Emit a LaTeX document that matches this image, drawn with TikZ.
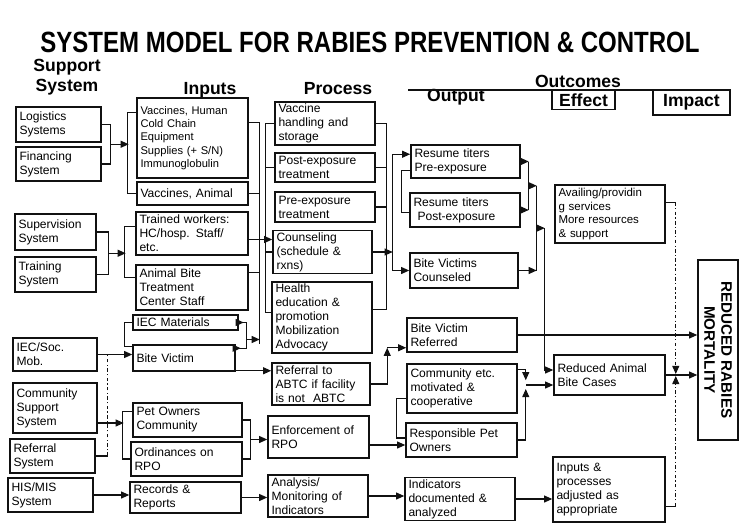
\documentclass[tikz,border=0pt]{standalone}
\usepackage{fontspec}
\setmainfont{Liberation Sans}
\usepackage{tikz}
\usetikzlibrary{arrows.meta,calc}
\definecolor{ink}{HTML}{111111}

\tikzset{
  box/.style={draw=ink, line width=1.3pt, align=left, inner xsep=3pt, inner ysep=1.5pt,
    font=\fontsize{10.3}{12}\selectfont},
  sz/.style 2 args={text width={#1*0.03cm-6pt}, minimum height={#2*0.03cm}},
  hdr/.style={font=\fontsize{15}{17}\selectfont\bfseries, align=center, inner sep=0pt},
  wire/.style={draw=ink, line width=1pt},
  arr/.style={wire, -{Triangle[length=7pt,width=6pt]}},
  dd/.style={wire, dashdotted},
}

\begin{document}
\begin{tikzpicture}[x=0.03cm, y=-0.03cm]
\useasboundingbox (0,0) rectangle (746,528);

% headings
\node[inner sep=0pt] (title) at (370,42)
  {\scalebox{0.82}[1]{\fontsize{25}{28}\selectfont\bfseries SYSTEM MODEL FOR RABIES PREVENTION \& CONTROL}};
\node[hdr] (hsup) at (67,77) {Support\\System};
\node[hdr] (hin) at (210,90) {Inputs};
\node[hdr] (hpro) at (338,89) {Process};
\node[hdr] (hout) at (456,97) {Output};
\node[hdr] (hoc) at (578,81) {Outcomes};
\node[hdr, draw=ink, line width=1pt, minimum width=63*0.03cm, minimum height=19*0.03cm] (heff) at (583.5,100) {Effect};
\node[hdr, draw=ink, line width=1pt, minimum width=77*0.03cm, minimum height=25*0.03cm] (himp) at (691.5,102.5) {Impact};
\coordinate (ocl) at (408,90);
\draw[wire] (ocl) -- (ocl -| himp.east);

% support system
\node[box, sz={85}{35}] (logi) at (58.5,124.5) {Logistics\\Systems};
\node[box, sz={85}{34}] (fin) at (58.5,164) {Financing\\System};
\node[box, sz={81}{36}] (sup) at (55.5,232) {Supervision\\System};
\node[box, sz={81}{35}] (train) at (55.5,274.5) {Training\\System};
\node[box, sz={84}{33}] (iecsoc) at (55,354.5) {IEC/Soc.\\Mob.};
\node[box, sz={84}{50}] (comm) at (55,408) {Community\\Support\\System};
\node[box, sz={85}{34}] (refsys) at (52.5,456) {Referral\\System};
\node[box, sz={85}{34}] (his) at (50.5,495) {HIS/MIS\\System};

% inputs
\node[box, sz={111}{80}, font=\fontsize{9.5}{11.3}\selectfont] (vhum) at (192.5,138)
  {Vaccines, Human\\Cold Chain\\Equipment\\Supplies (+ S/N)\\Immunoglobulin};
\node[box, sz={111}{23}] (vani) at (192.5,193.5) {Vaccines, Animal};
\node[box, sz={112}{43}] (trw) at (192,233.5) {Trained workers:\\HC/hosp. Staff/\\etc.};
\node[box, sz={112}{45}] (abtc) at (192,287.5) {Animal Bite\\Treatment\\Center Staff};
\node[box, sz={105}{15}] (iecm) at (185.5,322.5) {IEC Materials};
\node[box, sz={102}{26}] (bvic) at (184,358) {Bite Victim};
\node[box, sz={109}{34}] (pown) at (187.5,420) {Pet Owners\\Community};
\node[box, sz={111}{34}] (ordn) at (186.5,459) {Ordinances on\\RPO};
\node[box, sz={111}{31}] (recs) at (185.5,497.5) {Records \&\\Reports};

% process
\node[box, sz={100}{43}] (vhand) at (325,123.5) {Vaccine\\handling and\\storage};
\node[box, sz={100}{29}] (postx) at (325,167.5) {Post-exposure\\treatment};
\node[box, sz={100}{30}] (prex) at (325,207) {Pre-exposure\\treatment};
\node[box, sz={99}{40}] (couns) at (322.5,252) {Counseling\\(schedule \&\\rxns)};
\node[box, sz={100}{71}] (hedu) at (322,317.5) {Health\\education \&\\promotion\\Mobilization\\Advocacy};
\node[box, sz={98}{42}] (refabtc) at (321,384) {Referral to\\ABTC if facility\\is not\ \ ABTC};
\node[box, sz={101}{42}] (enf) at (318.5,437) {Enforcement of\\RPO};
\node[box, sz={100}{42}] (anal) at (318,496) {Analysis/\\Monitoring of\\Indicators};

% output
\node[box, sz={109}{33}] (rpre) at (465.5,161.5) {Resume titers\\Pre-exposure};
\node[box, sz={110}{34}] (rpost) at (465,210) {Resume titers\\\ Post-exposure};
\node[box, sz={108}{35}] (bvc) at (464,270.5) {Bite Victims\\Counseled};
\node[box, sz={110}{34}] (bvr) at (462,335) {Bite Victim\\Referred};
\node[box, sz={110}{49}] (cmot) at (462,388.5) {Community etc.\\motivated \&\\cooperative};
\node[box, sz={111}{34}] (rpo) at (461.5,440) {Responsible Pet\\Owners};
\node[box, sz={110}{42}] (indic) at (460,499) {Indicators\\documented \&\\analyzed};

% effect and impact
\node[box, sz={110}{58}, font=\fontsize{9.8}{11.5}\selectfont] (avail) at (610,214)
  {Availing/providin\\g services\\More resources\\\& support};
\node[box, sz={111}{40}] (rabc) at (609.5,375) {Reduced Animal\\Bite Cases};
\node[box, sz={112}{65}] (inadj) at (609,489.5) {Inputs \&\\processes\\adjusted as\\appropriate};
\node[draw=ink, line width=1.3pt, rotate=-90, align=center, inner sep=1pt,
  minimum width=180*0.03cm, minimum height=40*0.03cm,
  font=\fontsize{13}{14.5}\selectfont\bfseries] (rrm) at (718,350) {REDUCED RABIES\\MORTALITY};

% support -> inputs
\draw[wire] (logi.east) -- ++(9,0) |- coordinate[pos=.25] (sj1) (fin.east);
\draw[arr] (sj1) -- ++(18,0);
\draw[wire] ($(vhum.north west)+(0,15)$) -- ++(-9,0) |- (vani.west);
\draw[wire] (sup.east) -- ++(12,0) |- coordinate[pos=.25] (sj2) (train.east);
\draw[arr] (sj2) -- ++(17,0);
\draw[wire] ($(trw.north west)+(0,15)$) -- ++(-11,0) |- ($(abtc.north west)+(0,13)$);
\draw[arr] (iecsoc.east) -- (iecsoc.east -| bvic.west);
\draw[wire] (refsys.east) -- ++(12,0) coordinate (rsj);
\draw[dd] (rsj) -- (rsj |- iecsoc.east);
\draw[wire] (iecm.west) -- ++(-8,0) |- ($(bvic.north west)+(0,2)$);
\draw[arr] ($(comm.east)+(0,15)$) -- ++(26,0);
\draw[wire] ($(pown.north west)+(0,9)$) -- ++(-10,0) |- (ordn.west);
\draw[arr] (his.east) -- (his.east -| recs.west);

% inputs -> process
\draw[wire] ($(vhum.north east)+(0,25)$) -| ($(bvic.north east)+(24,0)$);
\draw[wire] (vani.east) -- ++(11,0);
\draw[wire] ($(abtc.north east)+(0,8)$) -- ++(11,0);
\draw[arr] (iecm.east) -- ++(5,0);
\draw[arr] ($(bvic.north east)+(0,4)$) -- ++(5,0);
\draw[wire] (iecm.east) -- ++(8,0) |- ($(bvic.north east)+(0,4)$);
\draw[arr] ($(iecm.east)+(8,17)$) -- ++(13,0);
\coordinate (tw) at ($(trw.east)+(0,6)$);
\draw[arr] (tw) -- (tw -| couns.west);
\coordinate (bv2) at ($(bvic.south east)+(0,-1)$);
\draw[arr] (bv2) -- (bv2 -| refabtc.west);
\draw[wire] (pown.east) -- ++(8,0) |- coordinate[pos=.25] (pj) (ordn.east);
\draw[arr] (pj) -- (pj -| enf.west);
\draw[arr] (recs.east) -- (recs.east -| anal.west);

% process buses
\draw[wire] (vhand.west) -- ++(-9,0) |- ($(hedu.north west)+(0,31)$);
\draw[wire] (postx.west) -- ++(-9,0);
\draw[wire] (couns.west) -- ++(-7,0);
\draw[wire] (vhand.east) -- ++(11,0) |- ($(hedu.north east)+(0,28)$);
\draw[wire] (postx.east) -- ++(11,0);
\draw[wire] (prex.east) -- ++(11,0);
\draw[arr] (couns.east) -- ++(20,0) coordinate (cj);
\draw[arr] (cj) |- ($(rpre.north west)+(0,10)$);
\draw[arr] (cj) |- (bvc.west);
\coordinate (rj) at ($(bvr.south west)+(-19,-5)$);
\draw[arr] (refabtc.east) -| (rj);
\draw[arr] (rj) -- (rj -| bvr.west);
\coordinate (ej) at ($(rpo.west)+(0,5)$);
\draw[arr] (ej -| enf.east) -- (ej);
\draw[arr] (anal.east) -- (anal.east -| indic.west);

% output -> effect
\draw[wire] ($(rpre.south west)+(0,-8)$) -- ++(-9,0) |- ($(rpost.north west)+(0,20)$);
\draw[arr] (rpre.east) -- ++(8,0) coordinate (oa);
\draw[arr] (rpost.east) -- ++(8,0) coordinate (ob);
\draw[wire] (oa) -- (ob);
\coordinate (oc) at ($(oa)!.5!(ob)$);
\draw[arr] (oc) -- ++(8,0) coordinate (od);
\draw[arr] (bvc.east) -- (bvc.east -| od);
\draw[wire] (od) -- (od |- bvc.east);
\coordinate (oe) at ($(od)!.5!(od |- bvc.east)$);
\draw[arr] (oe) -- ++(8,0) coordinate (of);
\draw[arr] (of) |- ($(rabc.west)+(0,-5)$);
\draw[wire] ($(cmot.south west)+(0,-15)$) -- ++(-10,0) |- ($(rpo.west)+(0,-2)$);
\draw[arr] ($(cmot.north east)+(0,6)$) -| ($(cmot.north east)+(8,17)$);
\draw[arr] (rpo.east) -| ($(rpo.east)+(8,-51)$);
\draw[arr] ($(rabc.west)+(-27,10)$) -- ($(rabc.west)+(0,10)$);
\draw[arr] (indic.east) -- (indic.east -| inadj.west);

% effect -> impact
\draw[arr] (bvr.east) -- (bvr.east -| rrm.south);
\draw[arr] (rabc.east) -- (rabc.east -| rrm.south);
\draw[wire] ($(avail.north east)+(0,18)$) -- ++(10,0) coordinate (da);
\coordinate (dm) at (da |- rabc.east);
\draw[dd, arr] (da) -- ($(dm)+(0,-1)$);
\draw[wire] ($(inadj.north east)+(0,50)$) -- ++(10,0) coordinate (db);
\draw[dd, arr] (db) -- ($(dm)+(0,1)$);
\end{tikzpicture}
\end{document}
